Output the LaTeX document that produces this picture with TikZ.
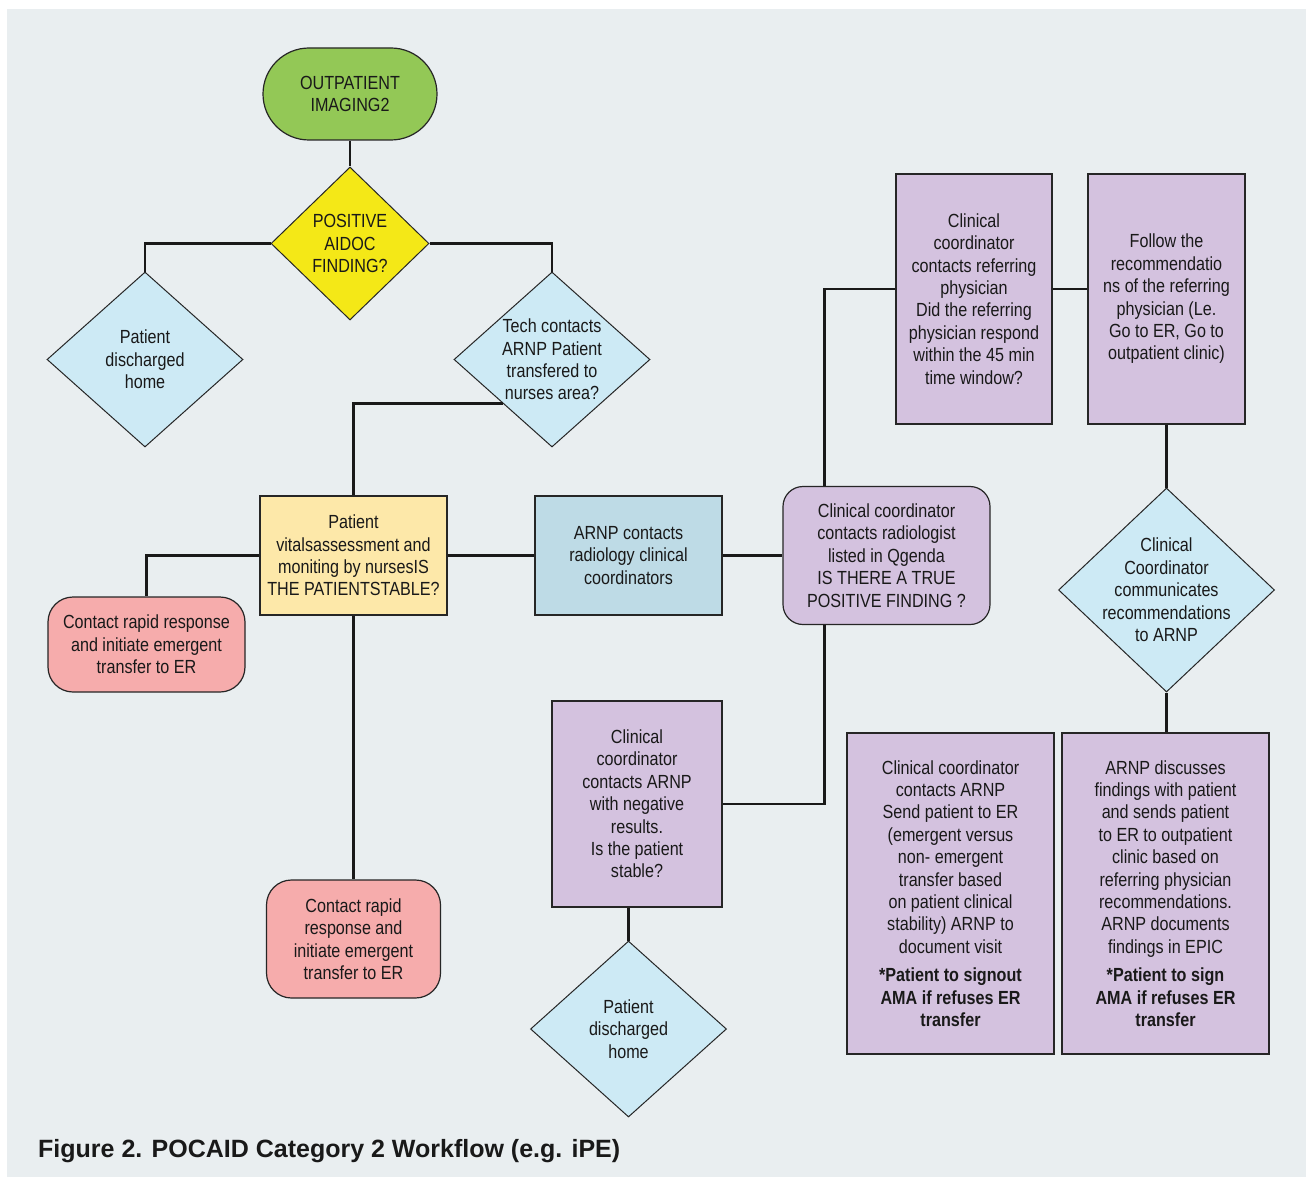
\documentclass[tikz,border=0pt]{standalone}
\usepackage{fontspec}
\setmainfont{Liberation Sans}[FakeStretch=0.85]
\newfontfamily\capfont{Liberation Sans}
\usepackage{tikz}
\usetikzlibrary{shapes.geometric}

\definecolor{bgc}{HTML}{E9EEF0}
\definecolor{termc}{HTML}{93C856}
\definecolor{yelc}{HTML}{F4E817}
\definecolor{skyc}{HTML}{CDEAF5}
\definecolor{sandc}{HTML}{FDE8A9}
\definecolor{redc}{HTML}{F6ACAC}
\definecolor{bluec}{HTML}{BEDBE6}
\definecolor{purc}{HTML}{D4C2DF}

\begin{document}
\begin{tikzpicture}
	[x=1pt,y=-1pt,
	 txt/.style={font=\fontsize{19}{22.4}\selectfont,align=center,inner sep=2pt,text=black!90},
	 term/.style={txt,draw=black!85,line width=1.2pt,fill=termc,minimum width=174pt,minimum height=92pt,rounded corners=46pt},
	 dec/.style={diamond,draw=black!85,line width=1pt,inner sep=0pt,aspect=1},
	 proc/.style={txt,draw=black!85,line width=1.2pt,fill=purc},
	 rproc/.style={proc,fill=redc,rounded corners=25pt},
	 conn/.style={line width=2.2pt,black!90}]
	\useasboundingbox (0,0) rectangle (1306,1177);
	\fill[bgc] (7,9) rectangle (1306,1177);
	
	\node[term] (start) at (350,94) {OUTPATIENT\\IMAGING2};
	\node[dec,fill=yelc,minimum width=158pt,minimum height=153pt,
		label={[txt]center:{POSITIVE\\AIDOC\\FINDING?}}] (pos) at (350,243.5) {};
	\node[dec,fill=skyc,minimum width=196pt,minimum height=175pt,
		label={[txt]center:{Patient\\discharged\\home}}] (home1) at (145,359.5) {};
	\node[dec,fill=skyc,minimum width=196pt,minimum height=175pt,
		label={[txt]center:{Tech contacts\\ARNP Patient\\transfered to\\nurses area?}}] (tech) at (552,359.5) {};
	
	\node[proc,fill=sandc,minimum width=187pt,minimum height=119pt] (vital) at (353.5,555.5)
		{Patient\\vitalsassessment and\\moniting by nursesIS\\THE PATIENTSTABLE?};
	\node[rproc,minimum width=197pt,minimum height=95pt] (rapid1) at (146.5,644.5)
		{Contact rapid response\\and initiate emergent\\transfer to ER};
	\node[rproc,minimum width=174pt,minimum height=118pt] (rapid2) at (353.5,939)
		{Contact rapid\\response and\\initiate emergent\\transfer to ER};
	\node[proc,fill=bluec,minimum width=187pt,minimum height=119pt] (arnp) at (628.5,555.5)
		{ARNP contacts\\radiology clinical\\coordinators};
	\node[proc,rounded corners=20pt,minimum width=207pt,minimum height=138pt] (radio) at (886.5,555.5)
		{Clinical coordinator\\contacts radiologist\\listed in Qgenda\\IS THERE A TRUE\\POSITIVE FINDING ?};
	
	\node[proc,minimum width=156pt,minimum height=250pt] (refer) at (974,299)
		{Clinical\\coordinator\\contacts referring\\physician\\Did the referring\\physician respond\\within the 45 min\\time window?};
	\node[proc,minimum width=157pt,minimum height=250pt] (follow) at (1166.5,299)
		{Follow the\\recommendatio\\ns of the referring\\physician (Le.\\Go to ER, Go to\\outpatient clinic)};
	\node[dec,fill=skyc,minimum width=216pt,minimum height=204pt,
		label={[txt]center:{Clinical\\Coordinator\\communicates\\recommendations\\to ARNP}}] (comm) at (1166.5,590) {};
	
	\node[proc,minimum width=207pt,minimum height=321pt] (send) at (950.5,893.5)
		{Clinical coordinator\\contacts ARNP\\Send patient to ER\\(emergent versus\\non- emergent\\transfer based\\on patient clinical\\stability) ARNP to\\document visit\\[6pt]
		\bfseries *Patient to signout\\\bfseries AMA if refuses ER\\\bfseries transfer};
	\node[proc,minimum width=207pt,minimum height=321pt] (discuss) at (1165.5,893.5)
		{ARNP discusses\\findings with patient\\and sends patient\\to ER to outpatient\\clinic based on\\referring physician\\recommendations.\\ARNP documents\\findings in EPIC\\[6pt]
		\bfseries *Patient to sign\\\bfseries AMA if refuses ER\\\bfseries transfer};
	
	\node[proc,minimum width=170pt,minimum height=206pt] (neg) at (637,804)
		{Clinical\\coordinator\\contacts ARNP\\with negative\\results.\\Is the patient\\stable?};
	\node[dec,fill=skyc,minimum width=196pt,minimum height=176pt,
		label={[txt]center:{Patient\\discharged\\home}}] (home2) at (628.5,1029) {};
	
	% connectors
	\foreach \from/\to in {start.south/pos.north,vital.south/rapid2.north,vital.east/arnp.west,
		arnp.east/radio.west,follow.south/comm.north}
	\draw[conn] (\from) -- (\to);
	\foreach \from/\to in {pos.west/home1.north,pos.east/tech.north,tech.south west/vital.north,
		vital.west/rapid1.north}
	\draw[conn] (\from) -| (\to);
	\draw[conn] (comm.south) -- (comm.south |- discuss.north);
	\draw[conn] (neg.south -| home2.north) -- (home2.north);
	\draw[conn] ([xshift=42pt]radio.north west) |- ([yshift=10pt]refer.west);
	\draw[conn] ([yshift=10pt]refer.east) -- ([yshift=10pt]follow.west);
	\draw[conn] ([xshift=42pt]radio.south west) |- (neg.east);
	
	\node[anchor=base west,font=\capfont\bfseries\fontsize{25}{30}\selectfont,text=black!90,inner sep=0pt]
		(caption) at (38,1157) {Figure 2. POCAID Category 2 Workflow (e.g. iPE)};
\end{tikzpicture}
\end{document}
